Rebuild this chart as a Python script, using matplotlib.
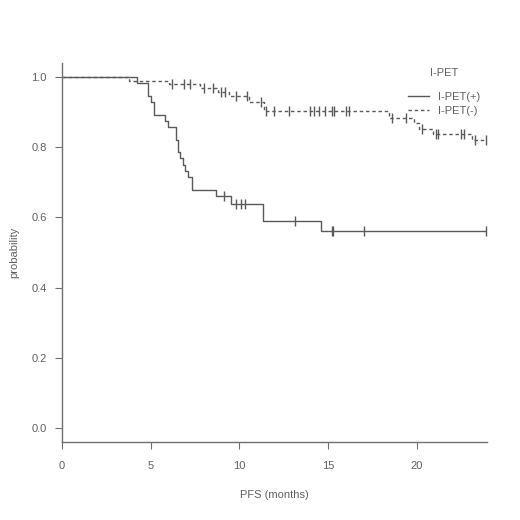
import numpy as np
import matplotlib
matplotlib.use("Agg")
import matplotlib.pyplot as plt

plt.rcParams["font.family"] = ["Liberation Sans", "DejaVu Sans"]

# I-PET(+) (solid)
pos_times = [0, 4.2, 4.85, 5.0, 5.2, 5.8, 6.0, 6.45, 6.55, 6.65, 6.8, 6.95, 7.1, 7.35, 8.7, 9.5, 11.35, 14.6, 23.9]
pos_surv = [1.0, 0.982, 0.946, 0.929, 0.893, 0.875, 0.857, 0.821, 0.786, 0.768, 0.75, 0.732, 0.714, 0.679, 0.661, 0.639, 0.589, 0.56, 0.56]
pos_censor = [9.15, 9.8, 10.1, 10.3, 13.15, 15.2, 15.3, 17.0, 23.9]

# I-PET(-) (dashed)
neg_times = [0, 3.8, 6.05, 7.75, 8.8, 9.4, 10.56, 11.4, 18.45, 19.86, 20.1, 20.9, 23.1, 23.9]
neg_surv = [1.0, 0.989, 0.98, 0.969, 0.958, 0.946, 0.93, 0.903, 0.884, 0.87, 0.853, 0.838, 0.82, 0.82]
neg_censor = [6.2, 6.9, 7.2, 8.0, 8.5, 8.95, 9.2, 9.8, 10.4, 11.24, 11.5, 11.97, 12.8, 13.95,
              14.23, 14.5, 14.8, 15.2, 15.35, 16.0, 16.2, 18.6, 19.4, 20.3, 21.1, 21.2,
              22.5, 22.65, 23.3, 23.9]

x_ticks = [0, 5, 10, 15, 20]
y_ticks = [0.0, 0.2, 0.4, 0.6, 0.8, 1.0]
y_ticklabels = ["0.0", "0.2", "0.4", "0.6", "0.8", "1.0"]

def surv_at(times, surv, t):
    idx = np.searchsorted(times, t, side="right") - 1
    return np.asarray(surv)[idx]

line_col = "#5a5a5a"
text_col = "#606060"

fig = plt.figure(figsize=(5.2, 5.2), dpi=100)
ax = fig.add_axes([0.1192, 0.15, 0.8173, 0.7288])

ax.step(pos_times, pos_surv, where="post", color=line_col, lw=1.0, label="I-PET(+)")
ax.step(neg_times, neg_surv, where="post", color=line_col, lw=1.0,
        linestyle=(0, (2.5, 2)), label="I-PET(-)")
ax.plot(pos_censor, surv_at(pos_times, pos_surv, pos_censor), linestyle="none",
        marker="|", markersize=6.5, color=line_col, markeredgewidth=1.0)
ax.plot(neg_censor, surv_at(neg_times, neg_surv, neg_censor), linestyle="none",
        marker="|", markersize=6.5, color=line_col, markeredgewidth=1.0)

ax.set_xlim(0, 23.95)
ax.set_ylim(-0.04, 1.04)
ax.set_xticks(x_ticks)
ax.set_yticks(y_ticks)
ax.set_yticklabels(y_ticklabels)
for s in ["top", "right"]:
    ax.spines[s].set_visible(False)
for s in ["left", "bottom"]:
    ax.spines[s].set_color("#707070")
    ax.spines[s].set_linewidth(1.0)
ax.tick_params(axis="both", colors="#707070", labelcolor=text_col, labelsize=8,
               length=5, width=0.8, direction="out")
ax.tick_params(axis="x", pad=9)
ax.tick_params(axis="y", pad=6)
ax.set_xlabel("PFS (months)", fontsize=8, color=text_col, labelpad=13)
ax.set_ylabel("probability", fontsize=8, color=text_col, labelpad=9)

leg = ax.legend(title="I-PET", loc="upper right", bbox_to_anchor=(1.0, 1.005),
                frameon=False, fontsize=8, title_fontsize=8, handlelength=1.9,
                handletextpad=0.8, labelspacing=0.35, borderaxespad=0.2)
leg._legend_box.sep = 10
for t in leg.get_texts():
    t.set_color(text_col)
leg.get_title().set_color(text_col)

fig.savefig("out.png", dpi=100)
